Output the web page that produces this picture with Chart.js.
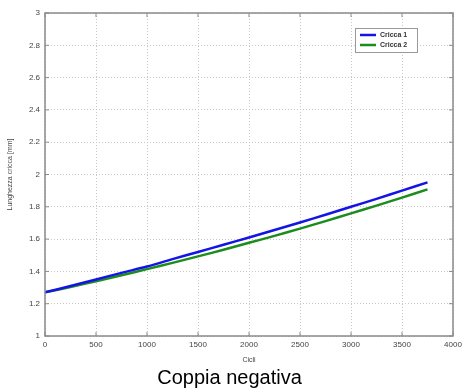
<!DOCTYPE html>
<html lang="it">
<head>
  <meta charset="UTF-8">
  <title>Coppia negativa</title>
  <script src="https://cdn.jsdelivr.net/npm/chart.js"></script>
  <style>
    body {
      margin: 0;
      background: #fff;
      font-family: 'Liberation Sans', Arial, sans-serif;
    }
    #wrap {
      width: 466px;
      height: 392px;
    }
  </style>
</head>
<body>
  <div id="wrap"><canvas id="grafico" width="466" height="392"></canvas></div>

  <script>
    // Dati
    const cicli = [0, 250, 500, 750, 1000, 1250, 1500, 1750, 2000, 2250, 2500, 2750, 3000, 3250, 3500, 3750];
    const cricca1 = [1.270, 1.310, 1.350, 1.391, 1.430, 1.476, 1.520, 1.565, 1.610, 1.656, 1.703, 1.751, 1.800, 1.849, 1.900, 1.951];
    const cricca2 = [1.270, 1.304, 1.339, 1.376, 1.414, 1.453, 1.493, 1.534, 1.577, 1.620, 1.665, 1.711, 1.759, 1.807, 1.857, 1.908];
    const nomiSerie = ['Cricca 1', 'Cricca 2'];
    const coloriSerie = ['#1414e6', '#1c8c1c'];

    const punti = (ys) => cicli.map((c, i) => ({ x: c, y: ys[i] }));

    // bordo del riquadro, tacche interne e legenda stile MATLAB
    const riquadro = {
      id: 'riquadro',
      afterDraw(chart) {
        const { ctx, chartArea: a, scales } = chart;
        ctx.save();
        ctx.strokeStyle = '#8a8a8a';
        ctx.lineWidth = 1.5;
        ctx.strokeRect(a.left, a.top, a.right - a.left, a.bottom - a.top);
        ctx.lineWidth = 1;
        scales.x.ticks.forEach(t => {
          const px = scales.x.getPixelForValue(t.value);
          ctx.beginPath();
          ctx.moveTo(px, a.bottom); ctx.lineTo(px, a.bottom - 4);
          ctx.moveTo(px, a.top); ctx.lineTo(px, a.top + 4);
          ctx.stroke();
        });
        scales.y.ticks.forEach(t => {
          const py = scales.y.getPixelForValue(t.value);
          ctx.beginPath();
          ctx.moveTo(a.left, py); ctx.lineTo(a.left + 4, py);
          ctx.moveTo(a.right, py); ctx.lineTo(a.right - 4, py);
          ctx.stroke();
        });

        // legenda
        const lx = 355, ly = 28, lw = 62, lh = 24;
        ctx.fillStyle = '#fff';
        ctx.fillRect(lx, ly, lw, lh);
        ctx.strokeStyle = '#999';
        ctx.strokeRect(lx + 0.5, ly + 0.5, lw, lh);
        ctx.font = 'bold 7px "Liberation Sans", Arial, sans-serif';
        ctx.textBaseline = 'middle';
        nomiSerie.forEach((n, i) => {
          const y = ly + 7 + i * 10;
          ctx.strokeStyle = coloriSerie[i];
          ctx.lineWidth = 2.5;
          ctx.beginPath();
          ctx.moveTo(lx + 5, y); ctx.lineTo(lx + 21, y);
          ctx.stroke();
          ctx.fillStyle = '#333';
          ctx.fillText(n, lx + 25, y);
        });
        ctx.restore();
      }
    };

    new Chart(document.getElementById('grafico'), {
      type: 'line',
      data: {
        datasets: [
          { label: nomiSerie[0], data: punti(cricca1), borderColor: coloriSerie[0], borderWidth: 2.5, pointRadius: 0, tension: 0.3 },
          { label: nomiSerie[1], data: punti(cricca2), borderColor: coloriSerie[1], borderWidth: 2.5, pointRadius: 0, tension: 0.3 }
        ]
      },
      options: {
        responsive: false,
        animation: false,
        layout: { padding: { top: 13, right: 13, left: 6, bottom: 0 } },
        plugins: {
          legend: { display: false },
          tooltip: { enabled: false },
          title: {
            display: true,
            position: 'bottom',
            text: 'Coppia negativa',
            color: '#000',
            font: { size: 20, family: "'Liberation Sans', Arial, sans-serif", weight: 'normal' },
            padding: { top: 2, bottom: 2 }
          }
        },
        scales: {
          x: {
            type: 'linear',
            min: 0,
            max: 4000,
            border: { display: false, dash: [1, 2] },
            grid: { color: '#c8c8c8', lineWidth: 1, drawTicks: false },
            ticks: { stepSize: 500, color: '#444', font: { size: 8 }, padding: 4, maxRotation: 0,
                     callback: v => String(v) },
            title: { display: true, text: 'Cicli', color: '#444', font: { size: 7 }, padding: { top: -2, bottom: 0 } },
            afterFit: s => { s.height = 28; }
          },
          y: {
            min: 1,
            max: 3,
            border: { display: false, dash: [1, 2] },
            grid: { color: '#c8c8c8', lineWidth: 1, drawTicks: false },
            ticks: { stepSize: 0.2, color: '#444', font: { size: 8 }, padding: 5,
                     callback: v => String(Math.round(v * 10) / 10) },
            title: { display: true, text: 'Lunghezza cricca [mm]', color: '#444', font: { size: 7 }, padding: 0 },
            afterFit: s => { s.width = 39; }
          }
        }
      },
      plugins: [riquadro]
    });
  </script>
</body>
</html>
